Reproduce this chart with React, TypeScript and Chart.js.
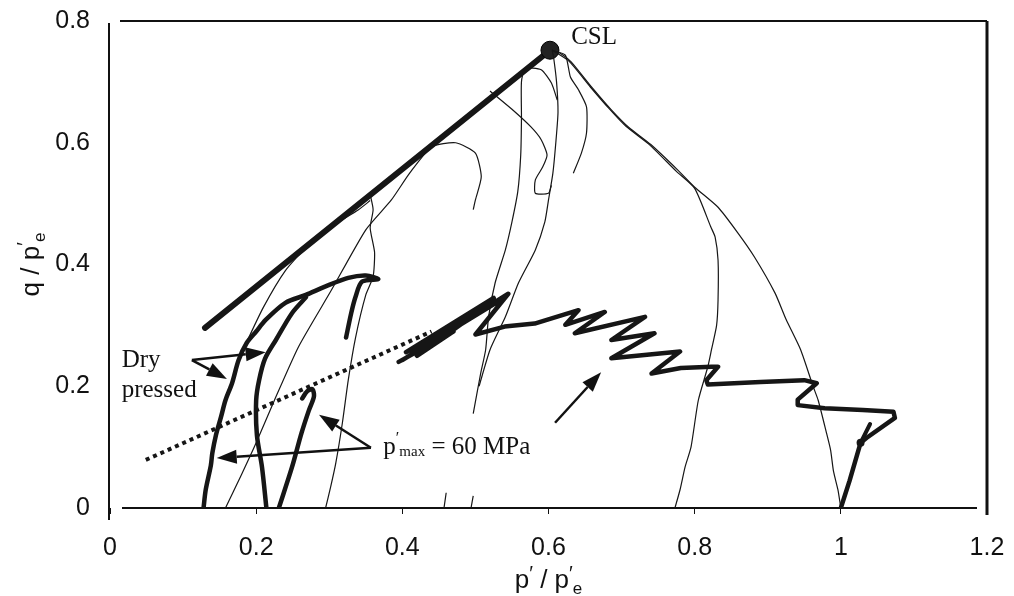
import React, { useEffect, useRef } from 'react';
import { Chart, registerables } from 'chart.js';

Chart.register(...registerables);

type P = [number, number];

const xTickValues = [0, 0.2, 0.4, 0.6, 0.8, 1.0, 1.2];
const xTickLabels = ['0', '0.2', '0.4', '0.6', '0.8', '1', '1.2'];
const yTickValues = [0, 0.2, 0.4, 0.6, 0.8];
const yTickLabels = ['0', '0.2', '0.4', '0.6', '0.8'];

// Critical state line with end marker
const cslLine: P[] = [[0.13, 0.296], [0.602, 0.752]];
// dotted line
const dottedLine: P[] = [[0.049, 0.079], [0.44, 0.29]];

// thick curves
const dryOuter: P[] = [
  [0.128, 0], [0.131, 0.03], [0.138, 0.07], [0.14, 0.09], [0.145, 0.12], [0.152, 0.15],
  [0.158, 0.177], [0.167, 0.205], [0.176, 0.243], [0.187, 0.271], [0.2, 0.29], [0.213, 0.309],
  [0.24, 0.337], [0.268, 0.35], [0.295, 0.364], [0.326, 0.378], [0.35, 0.382], [0.367, 0.376],
  [0.345, 0.372], [0.336, 0.347], [0.33, 0.32], [0.323, 0.28],
];
const dryInner: P[] = [
  [0.214, 0], [0.208, 0.067], [0.201, 0.12], [0.2, 0.177], [0.204, 0.21], [0.212, 0.245],
  [0.227, 0.276], [0.249, 0.32], [0.268, 0.346],
];
const pmax60: P[] = [
  [0.231, 0], [0.249, 0.067], [0.262, 0.123], [0.272, 0.16], [0.279, 0.183], [0.277, 0.195],
  [0.27, 0.192], [0.263, 0.18],
];
const zigzag: P[] = [
  [1.0, 0.0], [1.012, 0.045], [1.027, 0.107], [1.035, 0.115], [1.074, 0.148], [1.072, 0.158],
  [1.03, 0.161], [0.978, 0.164], [0.941, 0.169], [0.941, 0.178], [0.967, 0.205], [0.95, 0.21],
  [0.89, 0.207], [0.818, 0.203], [0.816, 0.21], [0.832, 0.232], [0.823, 0.232], [0.781, 0.23],
  [0.741, 0.221], [0.78, 0.257], [0.686, 0.246], [0.745, 0.287], [0.686, 0.276], [0.732, 0.314],
  [0.636, 0.287], [0.677, 0.322], [0.623, 0.301], [0.641, 0.325], [0.581, 0.303], [0.54, 0.298],
  [0.5, 0.285], [0.545, 0.352], [0.4, 0.243], [0.535, 0.342], [0.405, 0.256], [0.525, 0.345],
  [0.415, 0.262], [0.49, 0.31], [0.42, 0.25], [0.47, 0.29], [0.395, 0.24],
];
const zigStub: P[] = [[1.027, 0.107], [1.04, 0.138]];
const zigDot: P[] = [[1.027, 0.107]];

// thin curves
const thinA: P[] = [
  [1.0, 0], [0.996, 0.03], [0.99, 0.06], [0.986, 0.095], [0.98, 0.125], [0.969, 0.177],
  [0.962, 0.2], [0.945, 0.26], [0.925, 0.31], [0.91, 0.353], [0.882, 0.412], [0.859, 0.452],
  [0.832, 0.494], [0.8, 0.527], [0.777, 0.555], [0.74, 0.597], [0.71, 0.625], [0.686, 0.654],
  [0.66, 0.69], [0.631, 0.733], [0.616, 0.747], [0.605, 0.752],
];
const thinB: P[] = [
  [0.773, 0], [0.78, 0.03], [0.787, 0.068], [0.795, 0.1], [0.805, 0.177], [0.818, 0.232],
  [0.823, 0.26], [0.83, 0.3], [0.832, 0.342], [0.832, 0.407], [0.828, 0.445], [0.822, 0.462],
  [0.8, 0.525], [0.775, 0.553], [0.738, 0.597], [0.706, 0.627], [0.683, 0.656], [0.657, 0.692],
  [0.628, 0.734], [0.605, 0.752],
];
const thinC: P[] = [
  [0.605, 0.752], [0.623, 0.744], [0.63, 0.708], [0.641, 0.687], [0.652, 0.659], [0.652, 0.616],
  [0.645, 0.583], [0.634, 0.55],
];
const thinD: P[] = [
  [0.497, 0.155], [0.507, 0.22], [0.514, 0.26], [0.518, 0.314], [0.527, 0.37], [0.541, 0.424],
  [0.55, 0.47], [0.558, 0.52], [0.562, 0.58], [0.563, 0.64], [0.563, 0.7], [0.568, 0.722],
  [0.59, 0.72], [0.604, 0.698], [0.612, 0.67],
];
const thinE: P[] = [
  [0.505, 0.2], [0.52, 0.26], [0.541, 0.314], [0.559, 0.37], [0.582, 0.424], [0.595, 0.47],
  [0.6, 0.506], [0.606, 0.55], [0.61, 0.6], [0.613, 0.65], [0.611, 0.7], [0.607, 0.74], [0.605, 0.752],
];
const thinF: P[] = [
  [0.52, 0.685], [0.55, 0.655], [0.576, 0.626], [0.59, 0.605], [0.598, 0.58], [0.592, 0.56],
  [0.582, 0.539], [0.582, 0.517], [0.6, 0.517], [0.604, 0.53],
];
const thinDome: P[] = [
  [0.158, 0], [0.18, 0.055], [0.2, 0.107], [0.225, 0.177], [0.258, 0.265], [0.303, 0.358],
  [0.35, 0.457], [0.385, 0.506], [0.41, 0.55], [0.44, 0.593], [0.473, 0.6], [0.5, 0.583],
  [0.508, 0.544], [0.5, 0.506], [0.497, 0.49],
];
const thinH: P[] = [
  [0.295, 0], [0.302, 0.035], [0.309, 0.074], [0.318, 0.14], [0.326, 0.21], [0.336, 0.28],
  [0.35, 0.35], [0.36, 0.38], [0.362, 0.42], [0.356, 0.46], [0.36, 0.49], [0.356, 0.515],
];
const thinL: P[] = [
  [0.165, 0.2], [0.175, 0.24], [0.186, 0.27], [0.21, 0.33], [0.24, 0.39], [0.27, 0.43],
  [0.303, 0.462], [0.34, 0.49], [0.356, 0.505],
];
const stub1: P[] = [[0.457, 0], [0.46, 0.025]];
const stub2: P[] = [[0.494, 0], [0.497, 0.02]];

// annotation arrows: tail x, tail y, tip x, tip y (data units)
const arrows: [number, number, number, number][] = [
  [0.112, 0.243, 0.213, 0.256],
  [0.112, 0.243, 0.16, 0.212],
  [0.357, 0.099, 0.286, 0.153],
  [0.357, 0.099, 0.146, 0.082],
  [0.609, 0.14, 0.672, 0.223],
];

const SERIF = '"Liberation Serif", "Times New Roman", serif';
const SANS = '"Liberation Sans", Arial, sans-serif';

const pts = (a: P[]) => a.map(([x, y]) => ({ x, y }));

type Seg = { t: string; size: number; dy: number; font: string };

function drawRich(ctx: CanvasRenderingContext2D, segs: Seg[], x: number, y: number, align: 'left' | 'center') {
  let total = 0;
  const widths = segs.map((s) => {
    ctx.font = `${s.size}px ${s.font}`;
    const w = ctx.measureText(s.t).width;
    total += w;
    return w;
  });
  let cx = align === 'center' ? x - total / 2 : x;
  ctx.textAlign = 'left';
  ctx.textBaseline = 'alphabetic';
  segs.forEach((s, i) => {
    ctx.font = `${s.size}px ${s.font}`;
    ctx.fillText(s.t, cx, y + s.dy);
    cx += widths[i];
  });
}

const annotPlugin = {
  id: 'annot',
  beforeDatasetsDraw(chart: any) {
    const { ctx, chartArea: a } = chart;
    ctx.save();
    ctx.strokeStyle = '#111';
    ctx.lineCap = 'butt';
    ctx.lineWidth = 2;
    ctx.beginPath();
    ctx.moveTo(a.left - 1, a.top + 2);
    ctx.lineTo(a.left - 1, a.bottom + 12);
    ctx.moveTo(a.left + 10, a.top);
    ctx.lineTo(a.right, a.top);
    ctx.moveTo(a.left + 12, a.bottom);
    ctx.lineTo(a.right - 10, a.bottom);
    ctx.stroke();
    ctx.lineWidth = 3;
    ctx.beginPath();
    ctx.moveTo(a.right, a.top);
    ctx.lineTo(a.right, a.bottom + 7);
    ctx.stroke();
    ctx.restore();
  },
  afterDatasetsDraw(chart: any) {
    const { ctx, chartArea: a } = chart;
    const xs = chart.scales.x;
    const ys = chart.scales.y;
    const px = (v: number) => xs.getPixelForValue(v);
    const py = (v: number) => ys.getPixelForValue(v);
    ctx.save();
    ctx.fillStyle = '#111';
    ctx.strokeStyle = '#111';
    // arrows
    arrows.forEach(([x0, y0, x1, y1]) => {
      const X0 = px(x0), Y0 = py(y0), X1 = px(x1), Y1 = py(y1);
      const ang = Math.atan2(Y1 - Y0, X1 - X0);
      const L = 20, W = 7;
      const bx = X1 - L * Math.cos(ang), by = Y1 - L * Math.sin(ang);
      ctx.lineWidth = 2.5;
      ctx.beginPath();
      ctx.moveTo(X0, Y0);
      ctx.lineTo(bx, by);
      ctx.stroke();
      ctx.beginPath();
      ctx.moveTo(X1, Y1);
      ctx.lineTo(bx + W * Math.sin(ang), by - W * Math.cos(ang));
      ctx.lineTo(bx - W * Math.sin(ang), by + W * Math.cos(ang));
      ctx.closePath();
      ctx.fill();
    });
    // texts
    drawRich(ctx, [{ t: 'CSL', size: 25, dy: 0, font: SERIF }], px(0.631), py(0.762), 'left');
    drawRich(ctx, [{ t: 'Dry', size: 25, dy: 0, font: SERIF }], px(0.016), py(0.232), 'left');
    drawRich(ctx, [{ t: 'pressed', size: 25, dy: 0, font: SERIF }], px(0.016), py(0.182), 'left');
    drawRich(
      ctx,
      [
        { t: 'p', size: 25, dy: 0, font: SERIF },
        { t: '\u2032', size: 16, dy: -11, font: SERIF },
        { t: 'max', size: 15, dy: 2, font: SERIF },
        { t: ' = 60 MPa', size: 25, dy: 0, font: SERIF },
      ],
      px(0.374),
      py(0.0887),
      'left'
    );
    // axis titles
    const cx = (a.left + a.right) / 2;
    drawRich(
      ctx,
      [
        { t: 'p', size: 26, dy: 0, font: SANS },
        { t: '\u2032', size: 20, dy: -8, font: SANS },
        { t: ' / p', size: 26, dy: 0, font: SANS },
        { t: '\u2032', size: 20, dy: -8, font: SANS },
        { t: 'e', size: 17, dy: 6, font: SANS },
      ],
      cx,
      588,
      'center'
    );
    const cy = (a.top + a.bottom) / 2;
    ctx.translate(39, cy);
    ctx.rotate(-Math.PI / 2);
    drawRich(
      ctx,
      [
        { t: 'q / p', size: 26, dy: 0, font: SANS },
        { t: '\u2032', size: 20, dy: -8, font: SANS },
        { t: 'e', size: 17, dy: 6, font: SANS },
      ],
      0,
      0,
      'center'
    );
    ctx.restore();
  },
};

export default function App() {
  const ref = useRef<HTMLCanvasElement>(null);
  useEffect(() => {
    const canvas = ref.current!;
    const C = '#161616';
    const thin = (d: P[]) => ({
      data: pts(d), borderColor: C, backgroundColor: C, borderWidth: 1.2, showLine: true,
      pointRadius: 0, tension: 0.2,
    });
    const thick = (d: P[], w: number, t = 0.3) => ({
      data: pts(d), borderColor: C, backgroundColor: C, borderWidth: w, showLine: true,
      pointRadius: 0, tension: t, borderCapStyle: 'round', borderJoinStyle: 'round',
    });
    const chart = new Chart(canvas, {
      type: 'scatter',
      data: {
        datasets: [
          thin(thinA), thin(thinB), thin(thinC), thin(thinD), thin(thinE), thin(thinF),
          thin(thinDome), thin(thinH), thin(thinL), thin(stub1), thin(stub2),
          {
            data: pts(dottedLine), borderColor: C, borderWidth: 4, showLine: true, pointRadius: 0,
            borderDash: [4, 4],
          },
          thick(dryOuter, 4.5),
          thick(dryInner, 4.5),
          thick(pmax60, 4.5),
          thick(zigzag, 4.5, 0),
          thick(zigStub, 4, 0),
          { data: pts(zigDot), pointRadius: 4, pointBackgroundColor: C, pointBorderWidth: 0, showLine: false },
          {
            data: pts(cslLine), borderColor: C, borderWidth: 6, showLine: true,
            borderCapStyle: 'round', pointRadius: [0, 9], pointBackgroundColor: '#222',
            pointBorderColor: '#000', pointBorderWidth: 1,
          },
        ] as any,
      },
      options: {
        animation: false,
        responsive: false,
        devicePixelRatio: 1,
        layout: { padding: { left: 0, right: 27, top: 21, bottom: 0 } },
        plugins: { legend: { display: false }, tooltip: { enabled: false } },
        scales: {
          x: {
            type: 'linear', min: 0, max: 1.2,
            afterBuildTicks: (s: any) => { s.ticks = xTickValues.map((v) => ({ value: v })); },
            afterFit: (s: any) => { s.height = 88; s.paddingLeft = 0; s.paddingRight = 0; },
            ticks: {
              callback: (_v: any, i: number) => xTickLabels[i],
              font: { size: 25, family: SANS }, color: '#111', padding: 19,
              maxRotation: 0, autoSkip: false,
            },
            grid: { display: true, drawOnChartArea: false, drawTicks: true, tickLength: 6, color: '#111' },
            border: { display: false },
          },
          y: {
            type: 'linear', min: 0, max: 0.8,
            afterBuildTicks: (s: any) => { s.ticks = yTickValues.map((v) => ({ value: v })); },
            afterFit: (s: any) => { s.width = 110; s.paddingTop = 0; s.paddingBottom = 0; },
            ticks: {
              callback: (_v: any, i: number) => yTickLabels[i],
              font: { size: 25, family: SANS }, color: '#111', padding: 12, autoSkip: false,
            },
            grid: { display: false },
            border: { display: false },
          },
        },
      } as any,
      plugins: [annotPlugin],
    });
    return () => chart.destroy();
  }, []);
  return (
    <div style={{ position: 'fixed', left: 0, top: 0, width: 1014, height: 596, background: '#fff' }}>
      <canvas ref={ref} width={1014} height={596} style={{ display: 'block' }} />
    </div>
  );
}
